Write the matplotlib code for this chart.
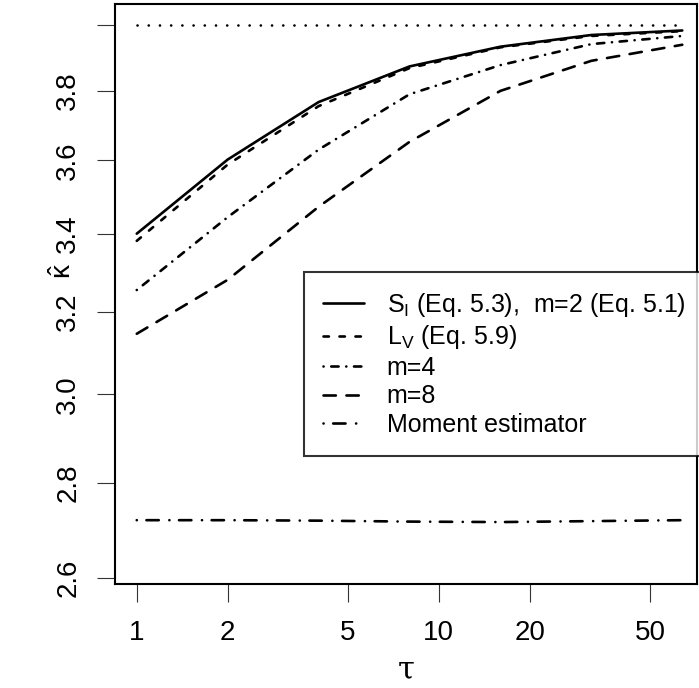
import matplotlib
matplotlib.use('Agg')
import matplotlib.pyplot as plt

plt.rcParams['font.family'] = ['Liberation Sans', 'DejaVu Sans']
plt.rcParams['mathtext.fontset'] = 'custom'
plt.rcParams['mathtext.rm'] = 'Liberation Sans'
plt.rcParams['mathtext.it'] = 'Liberation Sans:italic'
plt.rcParams['lines.scale_dashes'] = False

# ---------------- data ----------------
tau = [1, 2, 4, 8, 16, 32, 64]
kappa_true = 4.0
S_I = [3.400, 3.602, 3.767, 3.873, 3.933, 3.969, 3.983]
L_V = [3.381, 3.588, 3.755, 3.868, 3.931, 3.966, 3.981]
m4 = [3.254, 3.444, 3.630, 3.790, 3.877, 3.941, 3.966]
m8 = [3.145, 3.280, 3.472, 3.652, 3.800, 3.890, 3.939]
moment = [2.720, 2.720, 2.719, 2.717, 2.716, 2.718, 2.720]

labels = [r'S$_{\mathrm{I}}$ (Eq. 5.3),  m=2 (Eq. 5.1)',
          r'L$_{\mathrm{V}}$ (Eq. 5.9)',
          'm=4', 'm=8', 'Moment estimator']
xticks = [1, 2, 5, 10, 20, 50]
yticks = [2.6, 2.8, 3.0, 3.2, 3.4, 3.6, 3.8, 4.0]
ytick_labels = ['2.6', '2.8', '3.0', '3.2', '3.4', '3.6', '3.8', '']

# ---------------- layout ----------------
W, H = 699, 688
fig = plt.figure(figsize=(W / 100, H / 100), dpi=100)
L, R, T, B = 114.5, 697, 4, 584.3
ax = fig.add_axes([L / W, 1 - B / H, (R - L) / W, (B - T) / H])
ax.set_xscale('log')
ax.set_yscale('log')
ax.set_xlim(0.844, 71.6)
ax.set_ylim(2.5875, 4.066)

lw = 1.9
styles = [
    dict(linestyle='-'),
    dict(dashes=(3.9, 7.6)),
    dict(dashes=(0.07, 5.5, 5.3, 5.5)),
    dict(dashes=(8.9, 7.6)),
    dict(dashes=(0.07, 6.9, 8.9, 7.6)),
]
series = [S_I, L_V, m4, m8, moment]
handles = []
for vals, st in zip(series, styles):
    ln, = ax.plot(tau, vals, color='black', lw=lw, solid_capstyle='round',
                  dash_capstyle='round', solid_joinstyle='round',
                  dash_joinstyle='round', **st)
    handles.append(ln)

ax.plot([tau[0], tau[-1]], [kappa_true, kappa_true], color='black', lw=lw,
        dashes=(0.07, 8.0), dash_capstyle='round')

# ---------------- axes styling ----------------
for s in ax.spines.values():
    s.set_linewidth(1.5)
ax.xaxis.set_minor_locator(matplotlib.ticker.NullLocator())
ax.yaxis.set_minor_locator(matplotlib.ticker.NullLocator())
ax.set_xticks(xticks)
ax.set_xticklabels([str(v) for v in xticks])
ax.set_yticks(yticks)
ax.set_yticklabels(ytick_labels, rotation=90, va='center')
ax.tick_params(axis='both', direction='out', length=13, width=0.8,
               labelsize=20, color='#333333')
ax.tick_params(axis='x', pad=13)
ax.tick_params(axis='y', pad=11)

ax.set_xlabel('τ', fontsize=22, labelpad=6, family='DejaVu Serif')
ax.set_ylabel(r'$\hat{\mathrm{\kappa}}$', fontsize=20, rotation=90,
              va='center', ha='center')
ax.yaxis.set_label_coords((64 - L) / (R - L), (B - 271) / (B - T))

leg = ax.legend(handles, labels, loc='upper left',
                bbox_to_anchor=(304 / W, 1 - 272 / H),
                bbox_transform=fig.transFigure, fontsize=18,
                frameon=True, fancybox=False, edgecolor='black',
                borderpad=0.75, handlelength=1.66, handletextpad=0.9,
                labelspacing=0.18, borderaxespad=0)
leg.get_frame().set_linewidth(1.5)

fig.savefig('out.png', dpi=100)
